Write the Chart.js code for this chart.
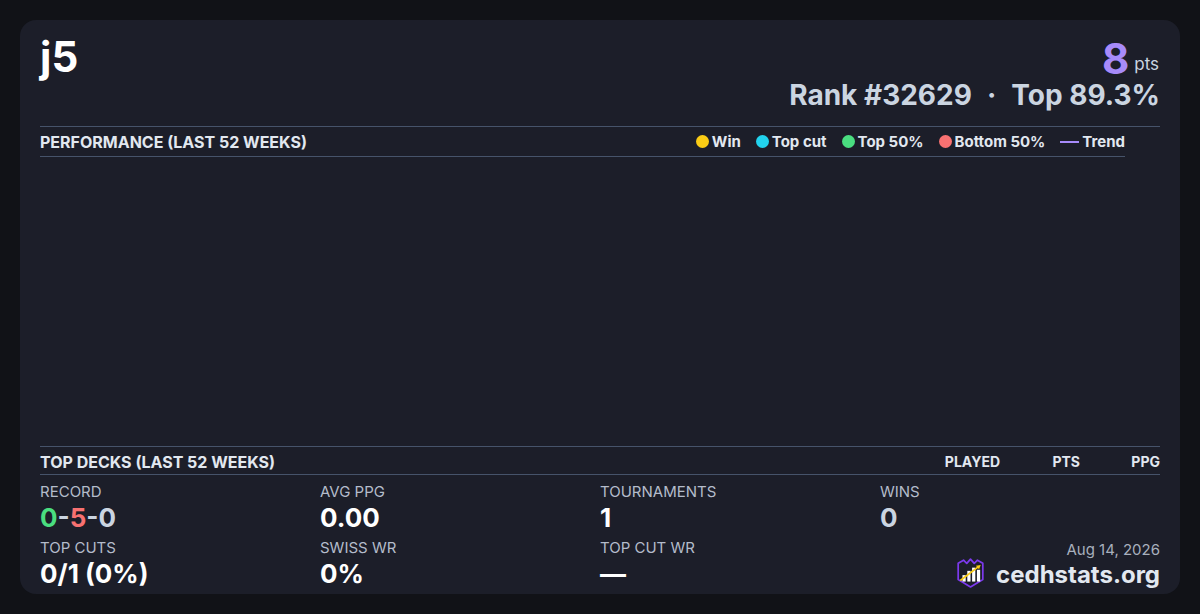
<!DOCTYPE html>
<html>
<head>
<meta charset="utf-8">
<script src="https://cdn.jsdelivr.net/npm/chart.js@4.4.1/dist/chart.umd.min.js"></script>
<style>
  html, body { margin: 0; padding: 0; }
  body { width: 1200px; height: 614px; background: #111217; font-family: Inter, "Noto Sans", sans-serif; position: relative; overflow: hidden; }
  .card { position: absolute; left: 20px; top: 20px; width: 1160px; height: 574px; background: #1c1e29; border-radius: 16px; }
  .abs { position: absolute; line-height: 1; white-space: nowrap; }
  .hline { position: absolute; height: 1px; background: #46536a; }
  .sec { font-size: 16px; font-weight: 700; color: #e2e8f0; }
  .legend { display: flex; align-items: center; font-size: 15px; font-weight: 700; color: #e2e8f0; }
  .legend .item { display: flex; align-items: center; margin-left: 15px; }
  .legend .dot { width: 13px; height: 13px; border-radius: 50%; margin-right: 3px; }
  .legend .ln { width: 19px; height: 2px; margin-right: 3px; }
  .colh { font-size: 14px; font-weight: 700; color: #e2e8f0; text-align: right; width: 80px; }
  .lbl { font-size: 15px; font-weight: 400; color: #b4bccb; }
  .val { font-size: 26px; font-weight: 700; color: #ffffff; }
</style>
</head>
<body>
<div class="card"></div>

<div class="abs" id="player" style="left:40px; top:36px; font-size:42px; font-weight:700; color:#ffffff;"></div>
<div class="abs" style="right:41px; top:38px; font-size:42px; font-weight:700; color:#a78bfa;"><span id="pts"></span><span style="font-size:17px; font-weight:400; color:#cbd5e1; margin-left:5px; position:relative; top:-4px;">pts</span></div>
<div class="abs" id="rank" style="right:40px; top:81px; font-size:28px; font-weight:700; color:#cbd5e1;"></div>

<div class="hline" style="left:40px; top:126px; width:1120px;"></div>
<div class="abs sec" style="left:40px; top:134px;">PERFORMANCE (LAST 52 WEEKS)</div>
<div class="abs legend" id="legend" style="right:75px; top:134px; height:15px;"></div>
<div class="hline" style="left:40px; top:156px; width:1085px;"></div>

<div style="position:absolute; left:40px; top:160px; width:1085px; height:282px;"><canvas id="chart"></canvas></div>

<div class="hline" style="left:40px; top:446px; width:1120px;"></div>
<div class="abs sec" style="left:40px; top:454px;">TOP DECKS (LAST 52 WEEKS)</div>
<div class="abs colh" style="left:920px; top:455px;">PLAYED</div>
<div class="abs colh" style="left:1000px; top:455px;">PTS</div>
<div class="abs colh" style="left:1080px; top:455px;">PPG</div>
<div class="hline" style="left:40px; top:474px; width:1120px;"></div>

<div id="stats"></div>

<div class="abs" style="right:40px; top:542px; font-size:15px; color:#a8b0bd;">Aug 14, 2026</div>
<svg style="position:absolute; left:956px; top:558px;" width="29" height="30" viewBox="0 0 27 28">
  <path d="M2 5 L7 2 L10 5 L13.5 1 L17 5 L20 2 L25 5 L25 20 L13.5 27 L2 20 Z" fill="#1c1e29" stroke="#7c3aed" stroke-width="1.6" stroke-linejoin="round"/>
  <rect x="6" y="16" width="3" height="6" fill="#ffffff"/>
  <rect x="10.5" y="12" width="3" height="10" fill="#ffffff"/>
  <rect x="15" y="9" width="3" height="13" fill="#ffffff"/>
  <rect x="19.5" y="11" width="3" height="11" fill="#ffffff"/>
  <line x1="4" y1="21" x2="21" y2="8" stroke="#facc15" stroke-width="1.6"/>
  <path d="M23 6.5 L18.5 7.2 L21.5 10.5 Z" fill="#facc15"/>
</svg>
<div class="abs" style="right:40px; top:563px; font-size:24px; font-weight:700; color:#e2e8f0;">cedhstats.org</div>

<script>
// ---- data ----
const playerName = "j5";
const totalPoints = 8;
const rankText = "Rank #32629";
const topPercentText = "Top 89.3%";

const weekLabels = ["W1","W2","W3","W4","W5","W6","W7","W8","W9","W10","W11","W12","W13",
  "W14","W15","W16","W17","W18","W19","W20","W21","W22","W23","W24","W25","W26",
  "W27","W28","W29","W30","W31","W32","W33","W34","W35","W36","W37","W38","W39",
  "W40","W41","W42","W43","W44","W45","W46","W47","W48","W49","W50","W51","W52"];
const seriesNames = ["Win", "Top cut", "Top 50%", "Bottom 50%", "Trend"];
const seriesColors = ["#facc15", "#22d3ee", "#4ade80", "#f87171", "#a78bfa"];
const winPoints = [];
const topCutPoints = [];
const top50Points = [];
const bottom50Points = [];
const trendValues = [];

const statLabels = ["RECORD", "AVG PPG", "TOURNAMENTS", "WINS", "TOP CUTS", "SWISS WR", "TOP CUT WR"];
const recordWins = 0, recordLosses = 5, recordDraws = 0;
const avgPPG = "0.00";
const tournaments = "1";
const wins = "0";
const topCuts = "0/1 (0%)";
const swissWR = "0%";
const topCutWR = "\u2014";

// ---- header ----
document.getElementById("player").textContent = playerName;
document.getElementById("pts").textContent = totalPoints;
document.getElementById("rank").innerHTML = rankText +
  '<span style="display:inline-block;margin:0 15px 0 15px;">\u00b7</span>' + topPercentText;

// ---- legend ----
const legend = document.getElementById("legend");
seriesNames.forEach((n, i) => {
  const it = document.createElement("div");
  it.className = "item";
  const mk = document.createElement("div");
  mk.className = i === 4 ? "ln" : "dot";
  mk.style.background = seriesColors[i];
  it.appendChild(mk);
  const t = document.createElement("span");
  t.textContent = n;
  it.appendChild(t);
  legend.appendChild(it);
});

// ---- stats ----
const stats = document.getElementById("stats");
const cols = [40, 320, 600, 880];
function addStat(label, html, col, row, color) {
  const l = document.createElement("div");
  l.className = "abs lbl";
  l.style.left = cols[col] + "px";
  l.style.top = (row === 0 ? 484 : 540) + "px";
  l.textContent = label;
  stats.appendChild(l);
  const v = document.createElement("div");
  v.className = "abs val";
  v.style.left = cols[col] + "px";
  v.style.top = (row === 0 ? 504.5 : 560.5) + "px";
  if (color) v.style.color = color;
  v.innerHTML = html;
  stats.appendChild(v);
}
addStat(statLabels[0], '<span style="color:#4ade80">' + recordWins + '</span><span style="color:#cbd5e1">-</span><span style="color:#f87171">' + recordLosses + '</span><span style="color:#cbd5e1">-' + recordDraws + '</span>', 0, 0);
addStat(statLabels[1], avgPPG, 1, 0);
addStat(statLabels[2], tournaments, 2, 0);
addStat(statLabels[3], wins, 3, 0, "#cbd5e1");
addStat(statLabels[4], topCuts, 0, 1);
addStat(statLabels[5], swissWR, 1, 1);
addStat(statLabels[6], topCutWR, 2, 1);

// ---- chart ----
new Chart(document.getElementById("chart"), {
  type: "line",
  data: {
    labels: weekLabels,
    datasets: [
      { label: seriesNames[0], data: winPoints, showLine: false, pointRadius: 6, backgroundColor: seriesColors[0], borderColor: seriesColors[0] },
      { label: seriesNames[1], data: topCutPoints, showLine: false, pointRadius: 6, backgroundColor: seriesColors[1], borderColor: seriesColors[1] },
      { label: seriesNames[2], data: top50Points, showLine: false, pointRadius: 6, backgroundColor: seriesColors[2], borderColor: seriesColors[2] },
      { label: seriesNames[3], data: bottom50Points, showLine: false, pointRadius: 6, backgroundColor: seriesColors[3], borderColor: seriesColors[3] },
      { label: seriesNames[4], data: trendValues, borderColor: seriesColors[4], borderWidth: 2, pointRadius: 0 }
    ]
  },
  options: {
    responsive: true,
    maintainAspectRatio: false,
    animation: false,
    plugins: { legend: { display: false }, tooltip: { enabled: false } },
    scales: { x: { display: false }, y: { display: false } }
  }
});
</script>
</body>
</html>
